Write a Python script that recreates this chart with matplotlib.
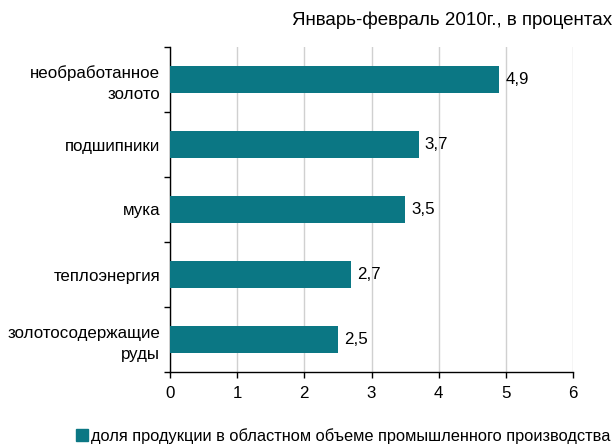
import matplotlib
matplotlib.use("Agg")
import matplotlib.pyplot as plt
from matplotlib.lines import Line2D

plt.rcParams['font.family'] = ['Liberation Sans', 'DejaVu Sans']

categories = ["необработанное\nзолото", "подшипники", "мука", "теплоэнергия",
              "золотосодержащие\nруды"]
values = [4.9, 3.7, 3.5, 2.7, 2.5]
value_labels = ["4,9", "3,7", "3,5", "2,7", "2,5"]
xticks = [0, 1, 2, 3, 4, 5, 6]
title = "Январь-февраль 2010г., в процентах"
legend_label = "доля продукции в областном объеме промышленного производства"
color = "#0B7784"

fs = 12.2

fig = plt.figure(figsize=(6.13, 4.45), dpi=100)
ax = fig.add_axes([170/613, 1 - 372/445, (573-170)/613, (372-47)/445])

n = len(categories)
ypos = list(range(n))[::-1]
ax.barh(ypos, values, height=0.42, color=color, zorder=3)
for y, v, lab in zip(ypos, values, value_labels):
    ax.text(v + 0.09, y, lab, va='center', ha='left', fontsize=fs, color='#000000')

ax.set_xlim(0, 6)
ax.set_ylim(-0.5, n - 0.5)
ax.set_xticks(xticks)
ax.set_xticklabels([str(t) for t in xticks], fontsize=fs)
ax.set_yticks(ypos)
ax.set_yticklabels(categories, fontsize=fs, multialignment='right', linespacing=1.5)
ax.set_yticks([i - 0.5 for i in range(n + 1)], minor=True)
ax.tick_params(axis='y', which='major', length=0, pad=7)
ax.tick_params(axis='y', which='minor', length=4, width=1, direction='out')
ax.tick_params(axis='x', which='major', length=4, width=1, direction='out', pad=6)

ax.grid(axis='x', color='#D0D0D0', linewidth=1, zorder=0)
for s in ['top', 'right']:
    ax.spines[s].set_visible(False)
for s in ['left', 'bottom']:
    ax.spines[s].set_color('#000000')
    ax.spines[s].set_linewidth(1)

fig.text(612/613, 1 - 20/445, title, ha='right', va='center', fontsize=13.5)

handle = Line2D([], [], marker='s', linestyle='none', markersize=8,
                markerfacecolor=color, markeredgecolor=color)
fig.legend([handle], [legend_label], loc='center right', bbox_to_anchor=(610/613, 1 - 436/445),
           frameon=False, fontsize=11.8, handletextpad=0.0, handlelength=1.0,
           borderaxespad=0, borderpad=0)

fig.savefig("out.png", dpi=100)
